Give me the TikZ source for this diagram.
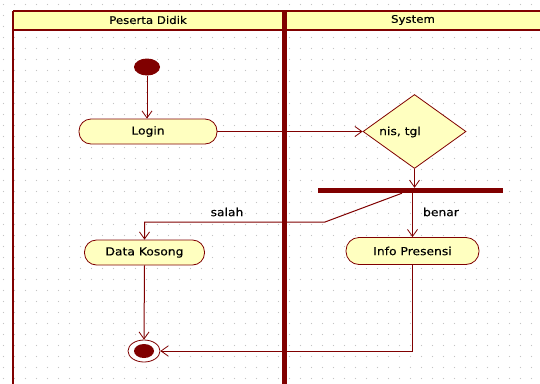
\documentclass[tikz,border=0pt]{standalone}
\usepackage{fontspec}
\setmainfont{DejaVu Sans}[FakeStretch=1.12,FakeBold=0.3]
\usetikzlibrary{shapes.geometric,arrows.meta}
\definecolor{dred}{HTML}{800000}
\definecolor{nodey}{HTML}{FFFFC0}
\definecolor{heady}{HTML}{FFFFB0}
\definecolor{dotc}{HTML}{C4C4C4}
\tikzset{
  act/.style={draw=dred, line width=0.8pt, fill=nodey, rounded corners=12pt, minimum height=25pt, inner sep=0pt, font=\fontsize{11}{13}\selectfont},
  lbl/.style={inner sep=0pt, font=\fontsize{11}{13}\selectfont},
  hdr/.style={inner sep=0pt, font=\fontsize{10.5}{12}\selectfont},
  conn/.style={draw=dred, line width=1pt, -{Straight Barb[length=7pt,width=10pt,line width=0.8pt]}},
  lane/.style={draw=dred},
}
\begin{document}
\begin{tikzpicture}[x=1pt,y=-1pt]
\useasboundingbox (0,0) rectangle (540,383);
\fill[white] (0,0) rectangle (540,383);
% dotted grid
\foreach \i in {0,...,49}{
  \foreach \j in {0,...,34}{
    \fill[dotc] ({3.5+11*\i},{4.5+11*\j}) circle (0.55pt);
  }
}
% header
\fill[heady] (13,11) rectangle (541,30);
\draw[lane, line width=2.5pt] (13,11) -- (541,11);
\draw[lane, line width=2pt] (13,30) -- (541,30);
\draw[lane, line width=2.5pt] (13,11) -- (13,384);
\draw[lane, line width=5pt] (284.5,11) -- (284.5,384);
\node[hdr] (h1) at (148,20) {Peserta Didik};
\node[hdr] (h2) at (413,20) {System};
% nodes
\node[ellipse, fill=dred, minimum width=26pt, minimum height=17pt, inner sep=0pt] (init) at (147,67) {};
\node[act, minimum width=138pt] (login) at (148,131.5) {Login};
\node[diamond, draw=dred, line width=0.8pt, fill=nodey, minimum width=103pt, minimum height=74pt, inner sep=0pt] (diam) at (414.5,131.5) {};
\node[lbl] (diamt) at (400,132) {nis, tgl};
\node[rectangle, fill=dred, minimum width=185pt, minimum height=5pt, inner sep=0pt] (bar) at (410.5,190.5) {};
\node[act, minimum width=120pt] (data) at (144.5,252.5) {Data Kosong};
\node[act, minimum width=133pt, minimum height=27pt, rounded corners=13pt] (info) at (412.5,251) {Info Presensi};
\node[ellipse, draw=dred, line width=0.8pt, fill=white, minimum width=32pt, minimum height=22pt, inner sep=0pt] (final) at (144,351) {};
\node[ellipse, fill=dred, minimum width=20pt, minimum height=14pt, inner sep=0pt] (finalin) at (144,351) {};
% connectors
\draw[conn] (init.south) -- (init.south |- login.north);
\draw[conn] (login.east) -- (diam.west);
\draw[conn] (diam.south) -- (diam.south |- bar.north);
\draw[conn] (info.north |- bar.south) -- (info.north);
\coordinate (sb) at ([xshift=-8.5pt]bar.south);
\coordinate (c1) at (325,222);
\draw[conn] (sb) -- (c1) -- (data.north |- c1) -- (data.north);
\draw[conn] (data.south) -- (final.north);
\draw[conn] (info.south) -- (info.south |- final.east) -- (final.east);
% labels
\node[lbl] (lsalah) at (227,212) {salah};
\node[lbl] (lbenar) at (441,212) {benar};
\end{tikzpicture}
\end{document}
